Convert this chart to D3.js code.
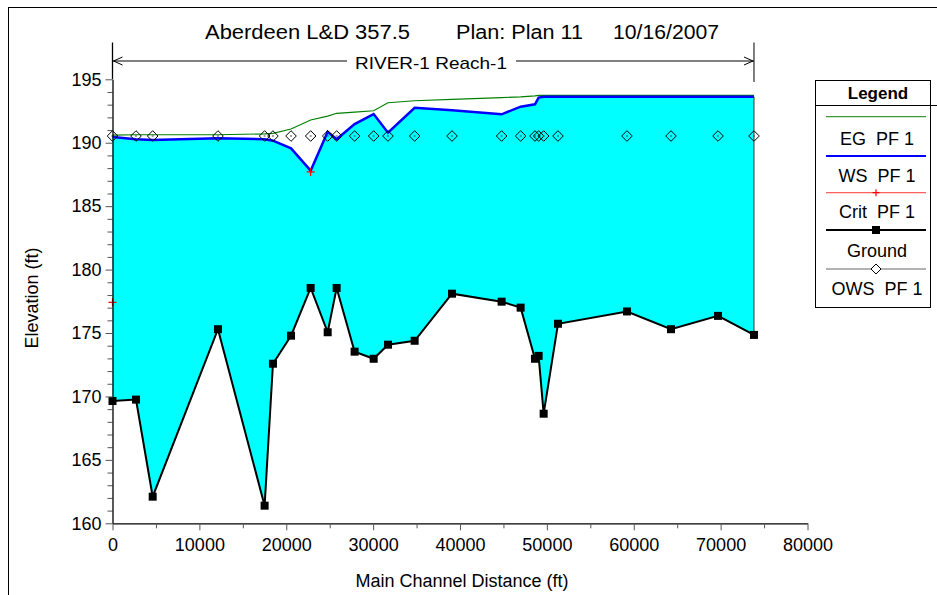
<!DOCTYPE html>
<html>
<head>
<meta charset="utf-8">
<script src="https://cdn.jsdelivr.net/npm/d3@7"></script>
<style>
  html, body { margin: 0; padding: 0; background: #fff; }
  svg { display: block; font-family: "Liberation Sans", Arial, sans-serif; }
  text { white-space: pre; }
</style>
</head>
<body>
<svg id="chart" width="937" height="595"></svg>
<script>
// ---------------- data ----------------
const stations = [0, 2705, 4625, 12140, 17510, 18470, 20550, 22810, 24770, 25800, 27870, 30060, 31710,
  34780, 39080, 44790, 46980, 48630, 49050, 49630, 51280, 59220, 64290, 69700, 73840];
const ground = [169.64, 169.75, 162.1, 175.3, 161.39, 172.58, 174.79, 178.55, 175.06, 178.55, 173.53, 172.97,
  174.08, 174.39, 178.1, 177.47, 177.0, 172.97, 173.2, 168.64, 175.73, 176.7, 175.3, 176.35, 174.85];
const wsPF1 = [190.45, 190.28, 190.21, 190.35, 190.27, 190.16, 189.56, 187.8, 190.87, 190.27, 191.47, 192.26,
  190.79, 192.76, 192.56, 192.24, 192.84, 193.03, 193.56, 193.63, 193.63, 193.63, 193.63, 193.63, 193.63];
const egPF1 = [190.6, 190.63, 190.63, 190.63, 190.7, 190.74, 191.08, 191.79, 192.1, 192.32, 192.42, 192.52,
  193.15, 193.31, 193.42, 193.56, 193.62, 193.7, 193.74, 193.74, 193.74, 193.74, 193.74, 193.74, 193.74];
const owsPF1 = [190.53, 190.53, 190.53, 190.53, 190.53, 190.53, 190.53, 190.53, 190.53, 190.53, 190.53, 190.53,
  190.53, 190.53, 190.53, 190.53, 190.53, 190.53, 190.53, 190.53, 190.53, 190.53, 190.53, 190.53, 190.53];
const critStations = [0, 22810];
const critPF1 = [177.42, 187.7];
const xTicks = [0, 10000, 20000, 30000, 40000, 50000, 60000, 70000, 80000];
const yTicks = [160, 165, 170, 175, 180, 185, 190, 195];
const titleParts = ["Aberdeen L&D 357.5", "Plan: Plan 11", "10/16/2007"];
const reachLabel = "RIVER-1 Reach-1";
const reachStart = 0, reachEnd = 73840;
const legendItems = [
  {label: "EG  PF 1", key: "eg"},
  {label: "WS  PF 1", key: "ws"},
  {label: "Crit  PF 1", key: "crit"},
  {label: "Ground", key: "ground"},
  {label: "OWS  PF 1", key: "ows"}
];

// ---------------- setup ----------------
const svg = d3.select("#chart");
const x = d3.scaleLinear().domain([0, 80000]).range([112.5, 807.5]);
const y = d3.scaleLinear().domain([160, 195]).range([523.3, 79.3]);

// outer frame
svg.append("rect").attr("x", 8.5).attr("y", 7.5).attr("width", 1200).attr("height", 1200)
  .attr("fill", "none").attr("stroke", "#000").attr("stroke-width", 1);

const rows = stations.map((d, i) => ({d, g: ground[i], ws: wsPF1[i], eg: egPF1[i], ows: owsPF1[i]}));

// fill between ground and WS
svg.append("path").datum(rows)
  .attr("d", d3.area().x(r => x(r.d)).y0(r => y(r.g)).y1(r => y(r.ws)))
  .attr("fill", "#00ffff").attr("stroke", "none");
// right edge of fill
const last = rows[rows.length - 1];
svg.append("line").attr("x1", x(last.d)).attr("x2", x(last.d)).attr("y1", y(last.ws)).attr("y2", y(last.g))
  .attr("stroke", "#333").attr("stroke-width", 1);

// EG line
svg.append("path").datum(rows)
  .attr("d", d3.line().x(r => x(r.d)).y(r => y(r.eg)))
  .attr("fill", "none").attr("stroke", "#008000").attr("stroke-width", 1.2);

// WS line
svg.append("path").datum(rows)
  .attr("d", d3.line().x(r => x(r.d)).y(r => y(r.ws)))
  .attr("fill", "none").attr("stroke", "#0000ff").attr("stroke-width", 2.5);

// Ground line
svg.append("path").datum(rows)
  .attr("d", d3.line().x(r => x(r.d)).y(r => y(r.g)))
  .attr("fill", "none").attr("stroke", "#000").attr("stroke-width", 2);

// ground squares
svg.append("g").selectAll("rect").data(rows).join("rect")
  .attr("x", r => x(r.d) - 4).attr("y", r => y(r.g) - 4).attr("width", 8).attr("height", 8)
  .attr("fill", "#000");

// OWS diamonds
const ows = svg.append("g").selectAll("g").data(rows).join("g")
  .attr("transform", r => `translate(${x(r.d)},${y(r.ows)})`);
ows.append("path").attr("d", "M0,-5.3L5.3,0L0,5.3L-5.3,0Z").attr("fill", "none").attr("stroke", "#000").attr("stroke-width", 1);
ows.append("line").attr("x1", -1).attr("x2", 1).attr("y1", 0).attr("y2", 0).attr("stroke", "#444").attr("stroke-width", 1);

// Crit markers
svg.append("g").selectAll("path").data(critStations.map((d, i) => ({d, v: critPF1[i]}))).join("path")
  .attr("d", r => `M${x(r.d) - 4},${y(r.v)}h8M${x(r.d)},${y(r.v) - 4}v8`)
  .attr("stroke", "#ff0000").attr("stroke-width", 1.2).attr("fill", "none");

// ---------------- axes ----------------
const xAxis = svg.append("g").attr("transform", `translate(0,${y(160)})`)
  .call(d3.axisBottom(x).tickValues(xTicks).tickFormat(d3.format("d")).tickSize(7).tickPadding(8).tickSizeOuter(0));
const xMinor = svg.append("g").attr("transform", `translate(0,${y(160)})`)
  .call(d3.axisBottom(x).tickValues(d3.range(5000, 80000, 10000)).tickFormat("").tickSize(5).tickSizeOuter(0));
xMinor.select(".domain").remove();

const yMinorVals = d3.range(160, 196).filter(v => v % 5 !== 0);
const yMinor = svg.append("g").attr("transform", `translate(${x(0)},0)`)
  .call(d3.axisLeft(y).tickValues(yMinorVals).tickFormat("").tickSize(5).tickSizeOuter(0));
yMinor.select(".domain").remove();
const yAxis = svg.append("g").attr("transform", `translate(${x(0)},0)`)
  .call(d3.axisLeft(y).tickValues(yTicks).tickFormat(d3.format("d")).tickSize(7).tickPadding(4).tickSizeOuter(0));

[xAxis, yAxis].forEach(g => {
  g.select(".domain").attr("stroke", "#000").attr("stroke-width", 1.3);
  g.selectAll(".tick text").attr("font-size", 18).attr("fill", "#000")
    .attr("font-family", "'Liberation Sans', Arial, sans-serif");
});
svg.selectAll(".tick line").attr("stroke", "#555");

// extend y axis line to top of bracket
svg.append("line").attr("x1", x(reachStart)).attr("x2", x(reachStart)).attr("y1", 42.5).attr("y2", y(195))
  .attr("stroke", "#000").attr("stroke-width", 1.3);
svg.append("line").attr("x1", x(reachEnd)).attr("x2", x(reachEnd)).attr("y1", 42.5).attr("y2", 82)
  .attr("stroke", "#000").attr("stroke-width", 1);

// axis titles
svg.append("text").attr("x", 462).attr("y", 587).attr("text-anchor", "middle")
  .attr("font-size", 18).text("Main Channel Distance (ft)");
svg.append("text").attr("transform", "translate(38,298) rotate(-90)").attr("text-anchor", "middle")
  .attr("font-size", 18).text("Elevation (ft)");

// ---------------- title ----------------
const titleX = [205, 456, 613];
const titleW = [205, 127, 106];
titleParts.forEach((t, i) => {
  svg.append("text").attr("x", titleX[i]).attr("y", 39).attr("font-size", 20)
    .attr("textLength", titleW[i]).attr("lengthAdjust", "spacingAndGlyphs").text(t);
});

// reach bracket
const arrowY = 61;
const lblCx = 431;
svg.append("line").attr("x1", x(reachStart)).attr("x2", 347).attr("y1", arrowY).attr("y2", arrowY).attr("stroke", "#000");
svg.append("line").attr("x1", 516).attr("x2", x(reachEnd)).attr("y1", arrowY).attr("y2", arrowY).attr("stroke", "#000");
svg.append("path").attr("d", `M${x(reachStart) + 10},${arrowY - 4}L${x(reachStart) + 1},${arrowY}L${x(reachStart) + 10},${arrowY + 4}`)
  .attr("fill", "none").attr("stroke", "#000");
svg.append("path").attr("d", `M${x(reachEnd) - 10},${arrowY - 4}L${x(reachEnd) - 1},${arrowY}L${x(reachEnd) - 10},${arrowY + 4}`)
  .attr("fill", "none").attr("stroke", "#000");
svg.append("text").attr("x", lblCx).attr("y", 69).attr("text-anchor", "middle").attr("font-size", 17)
  .attr("textLength", 152).attr("lengthAdjust", "spacingAndGlyphs").text(reachLabel);

// ---------------- legend ----------------
const lg = svg.append("g");
lg.append("rect").attr("x", 815.5).attr("y", 80.5).attr("width", 115).attr("height", 227)
  .attr("fill", "#fff").attr("stroke", "#000");
lg.append("line").attr("x1", 815.5).attr("x2", 937).attr("y1", 105.5).attr("y2", 105.5).attr("stroke", "#000");
lg.append("text").attr("x", 878).attr("y", 99).attr("text-anchor", "middle").attr("font-size", 17)
  .attr("font-weight", "bold").text("Legend");
const lineYs = [116.7, 156, 192.7, 230, 269];
const textYs = [138.3, 176, 211.7, 251, 288.3];
const lgStyle = {
  eg: {stroke: "#3a9a3a", w: 1.2},
  ws: {stroke: "#0000ff", w: 2},
  crit: {stroke: "#ff6060", w: 1.2},
  ground: {stroke: "#000", w: 2},
  ows: {stroke: "#666", w: 1}
};
legendItems.forEach((it, i) => {
  const st = lgStyle[it.key];
  lg.append("line").attr("x1", 826).attr("x2", 926).attr("y1", lineYs[i]).attr("y2", lineYs[i])
    .attr("stroke", st.stroke).attr("stroke-width", st.w);
  if (it.key === "crit") {
    lg.append("path").attr("d", `M${876 - 3.5},${lineYs[i]}h7M876,${lineYs[i] - 3.5}v7`).attr("stroke", "#ff0000").attr("stroke-width", 1.2);
  } else if (it.key === "ground") {
    lg.append("rect").attr("x", 876 - 4).attr("y", lineYs[i] - 4).attr("width", 8).attr("height", 8).attr("fill", "#000");
  } else if (it.key === "ows") {
    lg.append("path").attr("d", `M876,${lineYs[i] - 5}L881,${lineYs[i]}L876,${lineYs[i] + 5}L871,${lineYs[i]}Z`)
      .attr("fill", "#fff").attr("stroke", "#000");
  }
  lg.append("text").attr("x", 877).attr("y", textYs[i]).attr("dy", "0.35em").attr("text-anchor", "middle")
    .attr("font-size", 18).text(it.label);
});
</script>
</body>
</html>
